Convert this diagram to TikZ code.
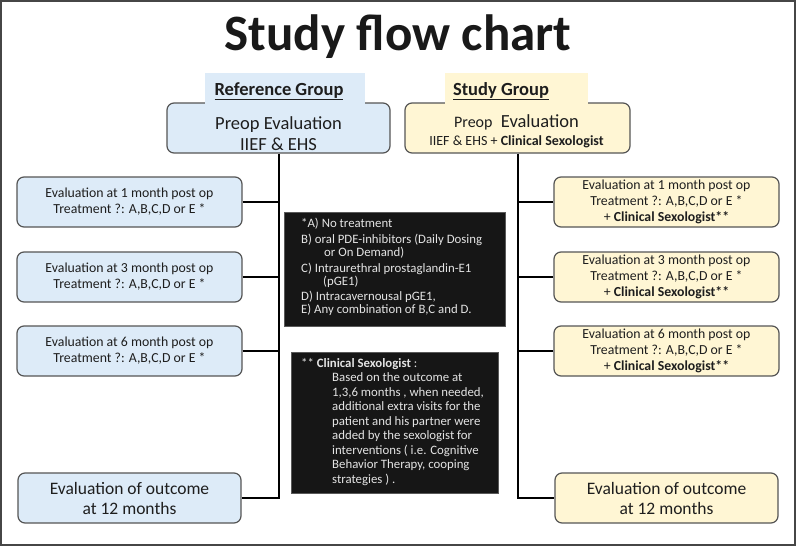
\documentclass[tikz,border=0pt]{standalone}
\usepackage{fontspec}
\setmainfont{Carlito}
\definecolor{bluefill}{RGB}{221,235,248}
\definecolor{yelfill}{RGB}{255,246,212}
\definecolor{bordgray}{RGB}{85,85,85}
\definecolor{framegray}{RGB}{70,70,70}
\definecolor{darkbox}{RGB}{22,22,22}
\definecolor{lighttext}{RGB}{228,228,228}
\definecolor{textc}{RGB}{30,30,30}
\begin{document}
\begin{tikzpicture}[x=1pt,y=-1pt,
  evbox/.style={draw=bordgray, line width=1.2pt, rounded corners=7pt, minimum width=225pt, minimum height=50pt, align=center, inner sep=0pt, text=textc, font=\fontsize{13.8}{16}\selectfont},
  bluebox/.style={evbox, fill=bluefill},
  yelbox/.style={evbox, fill=yelfill},
  tabbox/.style={draw=none, inner sep=0pt, anchor=north west, minimum height=31.2pt},
  tabtext/.style={anchor=base, inner sep=0pt, text=textc, font=\fontsize{18.5}{22}\selectfont\bfseries},
  conn/.style={line width=2pt, draw=black, line join=miter},
  notebg/.style={fill=darkbox, draw=gray!70!black, line width=0.8pt, inner sep=0pt, anchor=north west},
  notetext/.style={text=lighttext, align=left, inner sep=0pt, anchor=west},
]
\useasboundingbox (0,0) rectangle (796,546);
\draw[framegray, line width=2pt] (1,1) rectangle (795,545);

% title
\node[anchor=base, inner sep=0pt, font=\fontsize{51}{60}\selectfont\bfseries, text=black!90] (title) at (398,50) {Study flow chart};

% preop boxes and tabs
\node[evbox, fill=bluefill, minimum width=223pt] (L0) at (278.5,128) {};
\node[evbox, fill=yelfill, minimum width=225pt] (R0) at (517.5,128) {};
\node[tabbox, fill=bluefill, minimum width=160pt] (LT) at (205,73) {};
\node[tabbox, fill=yelfill, minimum width=143pt] (RT) at (445,73) {};
\node[tabtext] (LTt) at (279,95) {\underline{Reference Group}};
\node[tabtext] (RTt) at (501,95) {\underline{Study Group}};
\node[align=center, inner sep=0pt, text=textc, font=\fontsize{18.5}{21}\selectfont] (L0t) at (278.5,134) {Preop Evaluation\\IIEF \& EHS};
\node[align=center, inner sep=0pt, text=textc, font=\fontsize{18.5}{18}\selectfont] (R0t) at (516.5,131) {{\fontsize{16}{18}\selectfont Preop}\ \ Evaluation\\{\fontsize{14}{18}\selectfont IIEF \& EHS + \textbf{Clinical Sexologist}}};

% evaluation boxes, reference group
\node[bluebox] (L1) at (129.5,202) {Evaluation at 1 month post op\\Treatment ?: A,B,C,D or E *};
\node[bluebox] (L2) at (129.5,277) {Evaluation at 3 month post op\\Treatment ?: A,B,C,D or E *};
\node[bluebox] (L3) at (129.5,351) {Evaluation at 6 month post op\\Treatment ?: A,B,C,D or E *};
\node[bluebox, minimum width=223pt, font=\fontsize{17.5}{20}\selectfont] (LB) at (129.5,498) {Evaluation of outcome\\at 12 months};

% evaluation boxes, study group
\node[yelbox] (R1) at (666.5,202) {Evaluation at 1 month post op\\Treatment ?: A,B,C,D or E *\\+ \textbf{Clinical Sexologist**}};
\node[yelbox] (R2) at (666.5,277) {Evaluation at 3 month post op\\Treatment ?: A,B,C,D or E *\\+ \textbf{Clinical Sexologist**}};
\node[yelbox] (R3) at (666.5,351) {Evaluation at 6 month post op\\Treatment ?: A,B,C,D or E *\\+ \textbf{Clinical Sexologist**}};
\node[yelbox, minimum width=223pt, font=\fontsize{17.5}{20}\selectfont] (RB) at (666.5,498) {Evaluation of outcome\\at 12 months};

% connectors
\draw[conn] (L0.south) -- (L0.south |- LB.east) -- (LB.east);
\foreach \n in {L1,L2,L3} \draw[conn] (\n.east) -- (\n.east -| L0.south);
\draw[conn] (R0.south) -- (R0.south |- RB.west) -- (RB.west);
\foreach \n in {R1,R2,R3} \draw[conn] (\n.west) -- (\n.west -| R0.south);

% note boxes
\node[notebg, minimum width=221pt, minimum height=114pt] (N1) at (284,212) {};
\node[notetext, font=\fontsize{12.8}{13}\selectfont] (N1t) at (301,267) {*A) No treatment\\[3pt]B) oral PDE-inhibitors (Daily Dosing\\\hspace*{23pt}or On Demand)\\[3pt]C) Intraurethral prostaglandin-E1\\\hspace*{22pt}(pGE1)\\[2pt]D) Intracavernousal pGE1,\\E) Any combination of B,C and D.};

\node[notebg, minimum width=207pt, minimum height=141pt] (N2) at (291,352) {};
\node[notetext, font=\fontsize{12.8}{14.5}\selectfont] (N2t) at (301,422) {** \textbf{Clinical Sexologist} :\\\hspace*{31pt}Based on the outcome at\\\hspace*{31pt}1,3,6 months , when needed,\\\hspace*{31pt}additional extra visits for the\\\hspace*{31pt}patient and his partner were\\\hspace*{31pt}added by the sexologist for\\\hspace*{31pt}interventions ( i.e. Cognitive\\\hspace*{31pt}Behavior Therapy, cooping\\\hspace*{31pt}strategies ) .};
\end{tikzpicture}
\end{document}
